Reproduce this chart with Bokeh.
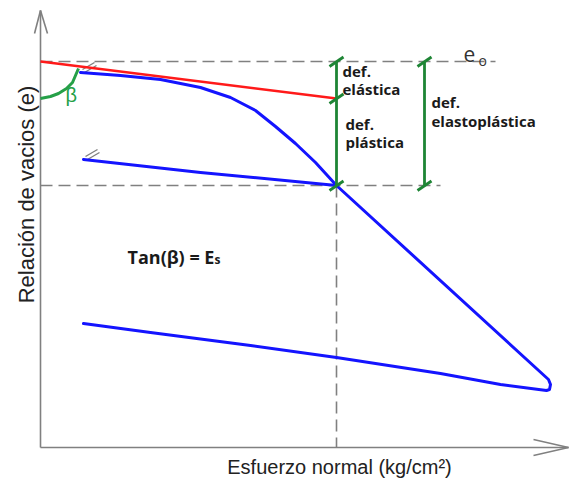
import math
from bokeh.plotting import figure
from bokeh.models import Range1d
from bokeh.core.properties import value
from bokeh.embed import file_html
from bokeh.resources import INLINE

# ---- data (stress in arbitrary units, void ratio e) ----
load_sigma = [0.80, 1.60, 2.40, 3.20, 3.80, 4.30, 4.70, 5.10, 5.50, 5.92]
load_e = [3.75, 3.72, 3.68, 3.60, 3.50, 3.37, 3.21, 3.04, 2.85, 2.62]
virgin_sigma = [10.16, 10.20, 10.18, 10.12]
virgin_e = [0.68, 0.63, 0.58, 0.57]
unload_sigma = [9.20, 8.00, 5.92, 4.20, 2.20, 0.86]
unload_e = [0.63, 0.74, 0.90, 1.02, 1.15, 1.24]
reload_sigma = [0.86, 3.20, 5.92]
reload_e = [2.88, 2.75, 2.62]
elastic_sigma = [0.0, 5.92]
elastic_e = [3.86, 3.49]
beta_sigma = [0.0, 0.20, 0.36, 0.52, 0.64, 0.76]
beta_e = [3.49, 3.51, 3.54, 3.59, 3.65, 3.79]
e0 = 3.86
e_p = 2.62
sigma_p = 5.92
sigma_b2 = 7.68
e_elastic_end = 3.49
axis_x_end = 10.56
axis_y_end = 4.37
e0_line_end = 9.10
ep_line_end = 8.00

GRAY = "#808080"
BLUE = "#1414ff"
RED = "#ff1a1a"
GREEN = "#1e8535"
GREEN2 = "#25a048"
DARK = "#1a1a1a"

p = figure(width=569, height=480, output_backend="svg", toolbar_location=None,
           x_range=Range1d(-0.80, 10.58), y_range=Range1d(-0.33, 4.47),
           min_border=0)
p.axis.visible = False
p.grid.visible = False
p.outline_line_color = None
p.background_fill_color = "white"

# axes with arrows
p.line([0, axis_x_end], [0, 0], line_color=GRAY, line_width=1.6)
p.line([0, 0], [0, axis_y_end], line_color=GRAY, line_width=1.6)
p.segment(x0=[-0.12, 0.14], y0=[axis_y_end - 0.23] * 2, x1=[0, 0], y1=[axis_y_end] * 2,
          line_color=GRAY, line_width=1.6)
p.segment(x0=[axis_x_end - 0.70] * 2, y0=[0.08, -0.08], x1=[axis_x_end] * 2, y1=[0, 0],
          line_color=GRAY, line_width=1.6)

# dashed reference lines
p.line([0, e0_line_end], [e0, e0], line_color=GRAY, line_width=1.6, line_dash="12 6")
p.line([0, ep_line_end], [e_p, e_p], line_color=GRAY, line_width=1.6, line_dash="12 6")
p.line([sigma_p, sigma_p], [e_p, 0], line_color=GRAY, line_width=1.6, line_dash="12 6")

# break marks
for (sx, sy) in [(load_sigma[0], load_e[0]), (reload_sigma[0], reload_e[0])]:
    p.segment(x0=[sx + 0.04, sx + 0.08], y0=[sy + 0.03, sy - 0.00],
              x1=[sx + 0.28, sx + 0.32], y1=[sy + 0.10, sy + 0.07],
              line_color=GRAY, line_width=1.4)

# elastic (red) line
p.line(elastic_sigma, elastic_e, line_color=RED, line_width=2.6)

# blue curves
main_sigma = load_sigma + virgin_sigma + unload_sigma
main_e = load_e + virgin_e + unload_e
p.line(main_sigma, main_e, line_color=BLUE, line_width=3, line_join="round", line_cap="round")
p.line(reload_sigma, reload_e, line_color=BLUE, line_width=3, line_join="round", line_cap="round")

# beta arc
p.line(beta_sigma, beta_e, line_color=GREEN2, line_width=3, line_join="round")

# text offset compensation (svg baseline shift)
dy = 0.07
p.text(x=[0.50], y=[3.46 + dy], text=["β"], text_color=GREEN2, text_font=value("Liberation Sans"),
       text_font_size="20px", text_baseline="alphabetic", text_align="left")

# brackets
for bx, ticks in [(sigma_p, [e0, e_elastic_end, e_p]), (sigma_b2, [e0, e_p])]:
    p.line([bx, bx], [e0, e_p], line_color=GREEN, line_width=2.8)
    p.segment(x0=[bx - 0.14] * len(ticks), y0=[t - 0.05 for t in ticks],
              x1=[bx + 0.14] * len(ticks), y1=[t + 0.045 for t in ticks],
              line_color=GREEN, line_width=2.8)

# labels
lab_x = [6.04, 6.04, 6.10, 6.10, 7.82, 7.82]
lab_y = [3.70, 3.52, 3.17, 2.99, 3.39, 3.20]
lab_t = ["def.", "elástica", "def.", "plástica", "def.", "elastoplástica"]
p.text(x=lab_x, y=[v + dy for v in lab_y], text=lab_t, text_color=DARK,
       text_font=value("Open Sans"), text_font_style="bold", text_font_size="15px",
       text_baseline="alphabetic", text_align="left")

p.text(x=[8.46], y=[3.87 + dy], text=["e"], text_color="#333333", text_font=value("Open Sans"),
       text_font_size="21px", text_baseline="alphabetic", text_align="left")
p.text(x=[8.76], y=[3.80 + dy], text=["o"], text_color="#333333", text_font=value("Open Sans"),
       text_font_size="14px", text_baseline="alphabetic", text_align="left")

p.text(x=[1.74], y=[1.84 + dy], text=["Tan(β) = E"], text_color=DARK, text_font=value("Open Sans"),
       text_font_style="bold", text_font_size="18px", text_baseline="alphabetic",
       text_align="left")
p.text(x=[3.48], y=[1.81 + dy], text=["s"], text_color=DARK, text_font=value("Open Sans"),
       text_font_style="bold", text_font_size="12px", text_baseline="alphabetic",
       text_align="left")

# axis titles
p.text(x=[-0.14 - 2 * dy], y=[2.53], text=["Relación de vacios (e)"], angle=math.pi / 2,
       text_color="#222222", text_font=value("Liberation Sans"), text_font_size="22px",
       text_baseline="alphabetic", text_align="center")
p.text(x=[5.98], y=[-0.26 + dy], text=["Esfuerzo normal (kg/cm²)"],
       text_color="#222222", text_font=value("Liberation Sans"), text_font_size="20px",
       text_baseline="alphabetic", text_align="center")

open("out.html", "w").write(file_html(p, INLINE))
